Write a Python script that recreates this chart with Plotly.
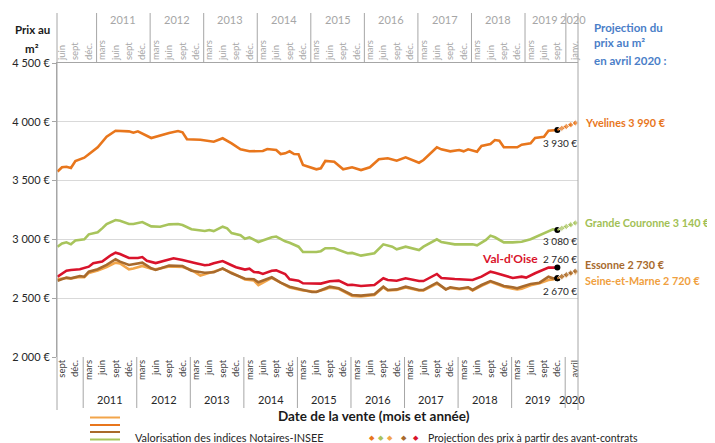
import plotly.graph_objects as go

# ---------------- data ----------------
MONTHS_FR = ["janv.", "févr.", "mars", "avril", "mai", "juin", "juil.", "août",
             "sept", "oct.", "nov.", "déc."]
# x values = months since September 2010 (0 = sept 2010, 111 = déc. 2019)
yv_m = [-1, 0, 1, 2, 3, 5, 6, 8, 10, 12, 15, 16, 17, 20, 24, 26, 27, 28, 31, 34, 36, 38, 40, 42,
        45, 46, 48, 49, 50, 51, 52, 53, 54, 57, 58, 59, 61, 63, 65, 67, 69, 71, 73, 75, 77, 80,
        81, 83, 84, 85, 87, 89, 90, 91, 93, 94, 96, 97, 98, 99, 102, 103, 105, 106, 108, 109, 111]
yv_v = [3576, 3613, 3618, 3607, 3667, 3695, 3724, 3783, 3873, 3924, 3919, 3907, 3919, 3862, 3905,
        3922, 3911, 3851, 3848, 3831, 3860, 3817, 3766, 3749, 3752, 3769, 3760, 3726, 3732, 3749,
        3726, 3724, 3633, 3596, 3605, 3667, 3661, 3596, 3613, 3590, 3613, 3681, 3690, 3669, 3698,
        3652, 3675, 3743, 3783, 3766, 3749, 3760, 3749, 3766, 3746, 3794, 3811, 3845, 3839, 3783,
        3783, 3805, 3817, 3862, 3873, 3924, 3930]

gc_m = [-1, 0, 1, 2, 3, 5, 6, 8, 9, 10, 12, 13, 15, 16, 18, 20, 22, 24, 26, 27, 29, 30, 32, 33,
        34, 36, 37, 38, 40, 41, 42, 44, 47, 48, 50, 51, 53, 54, 57, 58, 59, 61, 64, 65, 67, 70,
        72, 74, 75, 77, 80, 81, 84, 85, 88, 92, 93, 95, 96, 97, 99, 101, 103, 105, 107, 108, 110, 111]
gc_v = [2938, 2965, 2975, 2958, 2990, 3001, 3043, 3060, 3094, 3131, 3165, 3159, 3131, 3131, 3148,
        3111, 3108, 3128, 3131, 3122, 3086, 3083, 3071, 3080, 3071, 3108, 3094, 3054, 3035, 3006,
        3018, 2978, 3018, 3024, 2984, 2972, 2938, 2893, 2893, 2900, 2925, 2925, 2882, 2885, 2862,
        2882, 2958, 2938, 2916, 2938, 2910, 2938, 3001, 2978, 2958, 2958, 2950, 2995, 3032, 3018,
        2975, 2975, 2980, 3001, 3037, 3057, 3086, 3080]

vo_m = [-1, 1, 2, 4, 6, 7, 9, 11, 12, 13, 15, 17, 18, 19, 21, 24, 25, 27, 29, 30, 32, 33, 34, 36,
        38, 39, 41, 42, 43, 44, 45, 47, 48, 50, 51, 53, 54, 58, 60, 62, 64, 65, 67, 70, 72, 73,
        75, 77, 80, 81, 84, 85, 88, 91, 92, 94, 96, 97, 99, 101, 103, 104, 106, 108, 109, 111]
vo_v = [2683, 2734, 2740, 2746, 2768, 2797, 2811, 2867, 2887, 2876, 2842, 2842, 2850, 2819, 2799,
        2833, 2839, 2825, 2802, 2797, 2780, 2785, 2797, 2816, 2780, 2763, 2743, 2751, 2723, 2720,
        2706, 2734, 2737, 2706, 2661, 2649, 2627, 2624, 2644, 2649, 2612, 2614, 2604, 2612, 2669,
        2655, 2649, 2669, 2646, 2646, 2706, 2672, 2663, 2655, 2655, 2683, 2726, 2717, 2692, 2672,
        2683, 2675, 2712, 2748, 2760, 2760]

es_m = [-1, 1, 2, 4, 5, 6, 8, 10, 12, 13, 15, 16, 18, 20, 21, 24, 27, 29, 32, 34, 36, 38, 41, 43,
        44, 47, 49, 51, 54, 56, 57, 59, 60, 62, 64, 65, 67, 70, 72, 73, 75, 77, 80, 81, 84, 86,
        87, 89, 91, 92, 94, 96, 98, 99, 101, 102, 103, 105, 107, 108, 109, 110, 111]
es_v = [2649, 2675, 2669, 2689, 2683, 2726, 2746, 2783, 2831, 2811, 2783, 2788, 2802, 2754, 2740,
        2777, 2774, 2734, 2717, 2720, 2754, 2712, 2666, 2661, 2635, 2678, 2632, 2598, 2570, 2553,
        2553, 2584, 2598, 2584, 2547, 2527, 2522, 2533, 2598, 2570, 2575, 2598, 2570, 2570, 2632,
        2575, 2593, 2581, 2593, 2570, 2612, 2646, 2618, 2604, 2593, 2584, 2598, 2621, 2632, 2655,
        2683, 2669, 2670]

sm_m = [-1, 1, 2, 4, 5, 6, 8, 10, 12, 13, 15, 16, 18, 20, 21, 24, 27, 29, 31, 33, 36, 38, 41, 43,
        44, 47, 49, 51, 54, 56, 57, 59, 60, 62, 64, 65, 67, 70, 72, 73, 75, 77, 80, 81, 84, 86,
        87, 89, 91, 92, 94, 96, 98, 99, 101, 102, 103, 105, 107, 108, 109, 110, 111]
sm_v = [2660, 2672, 2668, 2680, 2678, 2715, 2735, 2765, 2802, 2795, 2746, 2752, 2774, 2750, 2745,
        2770, 2765, 2740, 2692, 2717, 2750, 2717, 2660, 2650, 2612, 2672, 2628, 2590, 2565, 2555,
        2555, 2575, 2590, 2580, 2536, 2519, 2514, 2528, 2592, 2566, 2570, 2592, 2565, 2565, 2625,
        2575, 2588, 2576, 2588, 2565, 2605, 2640, 2612, 2598, 2581, 2575, 2580, 2610, 2628, 2640,
        2655, 2660, 2670]

# projections (janv. -> avril 2020) from the avant-contrats
proj_m = [112, 113, 114, 115]
yv_proj = [3945, 3960, 3975, 3990]
gc_proj = [3095, 3110, 3125, 3140]
es_proj = [2685, 2700, 2715, 2730]
sm_proj = [2680, 2693, 2707, 2720]

y_ticks = [2000, 2500, 3000, 3500, 4000, 4500]
bottom_tick_m = list(range(0, 112, 3)) + [115]
bottom_tick_txt = [MONTHS_FR[(8 + m) % 12] for m in bottom_tick_m]
top_tick_m = list(range(0, 112, 3)) + [115]
top_tick_txt = [MONTHS_FR[(5 + m) % 12] for m in top_tick_m]
years = ["2011", "2012", "2013", "2014", "2015", "2016", "2017", "2018", "2019", "2020"]

def euro(v):
    return f"{v:,}".replace(",", " ") + " €"

# ---------------- geometry / styles ----------------
OFF = 8  # page body margin of the html page
W, H = 715 - OFF, 443 - OFF
L, R, T, B = 57 - OFF, 137, 63 - OFF, 86
PW, PH = W - L - R, H - T - B
XR = [-1.12, 115.62]
FONT = "Lato, Carlito, 'Open Sans', sans-serif"

def px(xp):  # screen x (reference pixels) -> paper
    return (xp - OFF - L) / PW

def py(yp):  # screen y (reference pixels) -> paper
    return (H - B - (yp - OFF)) / PH

C_YV = "#E8761C"
C_GC = "#A8C45C"
C_VO = "#D9132B"
C_ES = "#A86A2C"
C_SM = "#F2A54A"

series = [
    dict(name="Seine-et-Marne", m=sm_m, v=sm_v, color=C_SM, proj=sm_proj, lab_color="#F0A040", lab_shift=-8),
    dict(name="Essonne", m=es_m, v=es_v, color=C_ES, proj=es_proj, lab_color="#A86A2C", lab_shift=7),
    dict(name="Val-d'Oise", m=vo_m, v=vo_v, color=C_VO, proj=None, lab_color=C_VO, lab_shift=0),
    dict(name="Grande Couronne", m=gc_m, v=gc_v, color=C_GC, proj=gc_proj, lab_color="#A2BF55", lab_shift=0),
    dict(name="Yvelines", m=yv_m, v=yv_v, color=C_YV, proj=yv_proj, lab_color=C_YV, lab_shift=0),
]

fig = go.Figure()
for s in series:
    fig.add_trace(go.Scatter(x=s["m"], y=s["v"], mode="lines",
                             line=dict(color=s["color"], width=2.6),
                             hoverinfo="skip", showlegend=False))
for s in series:
    if s["proj"]:
        fig.add_trace(go.Scatter(x=[s["m"][-1]] + proj_m, y=[s["v"][-1]] + s["proj"],
                                 mode="lines+markers", xaxis="x2",
                                 line=dict(color=s["color"], width=2, dash="dot"),
                                 marker=dict(symbol="diamond", size=[0, 5, 5, 5, 5], color=s["color"]),
                                 hoverinfo="skip", showlegend=False))
# end-of-2019 black points
fig.add_trace(go.Scatter(x=[s["m"][-1] for s in series], y=[s["v"][-1] for s in series],
                         mode="markers", marker=dict(color="black", size=6),
                         hoverinfo="skip", showlegend=False))

ann = []
lab_pos = {"Yvelines": -13, "Grande Couronne": -11, "Val-d'Oise": 9, "Essonne": -13}
for s in series:
    if s["name"] in lab_pos:
        ann.append(dict(x=s["m"][-1], y=s["v"][-1], xref="x", yref="y", text=euro(s["v"][-1]),
                        showarrow=False, xanchor="center", yanchor="middle", xshift=3,
                        yshift=lab_pos[s["name"]], font=dict(size=10, color="#262626")))
    if s["name"] == "Val-d'Oise":
        ann.append(dict(x=s["m"][-1], y=s["v"][-1], xref="x", yref="y", text="<b>Val-d'Oise</b>",
                        showarrow=False, xanchor="right", yanchor="middle", xshift=-17, yshift=9,
                        font=dict(size=12, color=C_VO)))
    if s["proj"]:
        ann.append(dict(x=px(583), y=s["proj"][-1], xref="paper", yref="y",
                        text=f"<b>{s['name']} {euro(s['proj'][-1])}</b>", showarrow=False,
                        xanchor="left", yanchor="middle", yshift=s["lab_shift"],
                        font=dict(size=10.8, color=s["lab_color"])))

ann += [
    dict(x=px(32), y=py(30), xref="paper", yref="paper", text="<b>Prix au</b>", showarrow=False,
         xanchor="center", yanchor="middle", font=dict(size=11.5, color="#1a1a1a")),
    dict(x=px(32), y=py(49), xref="paper", yref="paper", text="<b>m²</b>", showarrow=False,
         xanchor="center", yanchor="middle", font=dict(size=11.5, color="#1a1a1a")),
    dict(x=px(592), y=py(27), xref="paper", yref="paper", text="<b>Projection du</b>", showarrow=False,
         xanchor="left", yanchor="middle", font=dict(size=11.5, color="#4A7EC8")),
    dict(x=px(592), y=py(43), xref="paper", yref="paper", text="<b>prix au m²</b>", showarrow=False,
         xanchor="left", yanchor="middle", font=dict(size=11.5, color="#4A7EC8")),
    dict(x=px(592), y=py(60), xref="paper", yref="paper", text="<b>en avril 2020 :</b>", showarrow=False,
         xanchor="left", yanchor="middle", font=dict(size=11.5, color="#4A7EC8")),
    dict(x=px(374), y=py(416), xref="paper", yref="paper", text="<b>Date de la vente (mois et année)</b>",
         showarrow=False, xanchor="center", yanchor="middle", font=dict(size=13.5, color="#1a1a1a")),
]

bottom_edges = [4.75 + 12 * k for k in range(10)]
top_edges = [7.75 + 12 * k for k in range(9)] + [112.9]
shapes = []
line_c = "#A6A6A6"
for i, e in enumerate(bottom_edges):
    shapes.append(dict(type="line", xref="x", yref="paper", x0=e, x1=e, y0=0, y1=py(408),
                       line=dict(color=line_c, width=1)))
    nxt = bottom_edges[i + 1] if i + 1 < len(bottom_edges) else XR[1]
    ann.append(dict(x=(e + nxt) / 2, y=py(399), xref="x", yref="paper", text=years[i], showarrow=False,
                    xanchor="center", yanchor="middle", font=dict(size=11, color="#262626")))
for i, e in enumerate(top_edges):
    shapes.append(dict(type="line", xref="x", yref="paper", x0=e, x1=e, y0=1, y1=py(13),
                       line=dict(color=line_c, width=1)))
    nxt = top_edges[i + 1] if i + 1 < len(top_edges) else XR[1] + 0.6
    ann.append(dict(x=(e + nxt) / 2, y=py(20), xref="x", yref="paper", text=years[i], showarrow=False,
                    xanchor="center", yanchor="middle", font=dict(size=11, color="#A6A6A6")))
for xx in (0, 1):
    shapes.append(dict(type="line", xref="paper", yref="paper", x0=xx, x1=xx, y0=py(410), y1=py(13),
                       line=dict(color=line_c, width=1)))

leg_lines = [(417.5, C_SM), (425, C_YV), (432, C_ES), (439.5, C_GC)]
for yy, c in leg_lines:
    shapes.append(dict(type="line", xref="paper", yref="paper", x0=px(90), x1=px(120), y0=py(yy), y1=py(yy),
                       line=dict(color=c, width=2)))
ann.append(dict(x=px(133), y=py(437.5), xref="paper", yref="paper", text="Valorisation des indices Notaires-INSEE",
                showarrow=False, xanchor="left", yanchor="middle", font=dict(size=10.9, color="#262626")))
for xx, c in [(372, C_YV), (381, C_GC), (390, C_SM), (404, C_ES), (416, C_VO)]:
    ann.append(dict(x=px(xx), y=py(437.5), xref="paper", yref="paper", text="◆", showarrow=False,
                    xanchor="center", yanchor="middle", font=dict(size=7, color=c, family="DejaVu Sans")))
ann.append(dict(x=px(426), y=py(437.5), xref="paper", yref="paper",
                text="Projection des prix à partir des avant-contrats",
                showarrow=False, xanchor="left", yanchor="middle", font=dict(size=10.5, color="#262626")))

fig.update_layout(
    width=W, height=H, margin=dict(l=L, r=R, t=T, b=B, autoexpand=False),
    paper_bgcolor="white", plot_bgcolor="white",
    font=dict(family=FONT, color="#262626"),
    showlegend=False, hovermode=False,
    xaxis=dict(range=XR, tickmode="array", tickvals=bottom_tick_m, ticktext=bottom_tick_txt,
               tickangle=-90, tickfont=dict(size=9.5, color="#404040"), showgrid=False,
               zeroline=False, showline=False, ticks=""),
    xaxis2=dict(range=XR, overlaying="x", side="top", tickmode="array", tickvals=top_tick_m,
                ticktext=top_tick_txt, tickangle=-90, tickfont=dict(size=9.5, color="#A6A6A6"),
                showgrid=False, zeroline=False, showline=True, linecolor=line_c, linewidth=1, ticks=""),
    yaxis=dict(range=[2000, 4500], tickmode="array", tickvals=y_ticks, ticktext=[euro(v) for v in y_ticks],
               tickfont=dict(size=11, color="#262626"), gridcolor="#D9D9D9", gridwidth=1,
               zeroline=False, showline=True, linecolor=line_c, ticks="outside", ticklen=4,
               tickcolor=line_c),
    shapes=shapes, annotations=ann,
)
fig.write_html("out.html")
